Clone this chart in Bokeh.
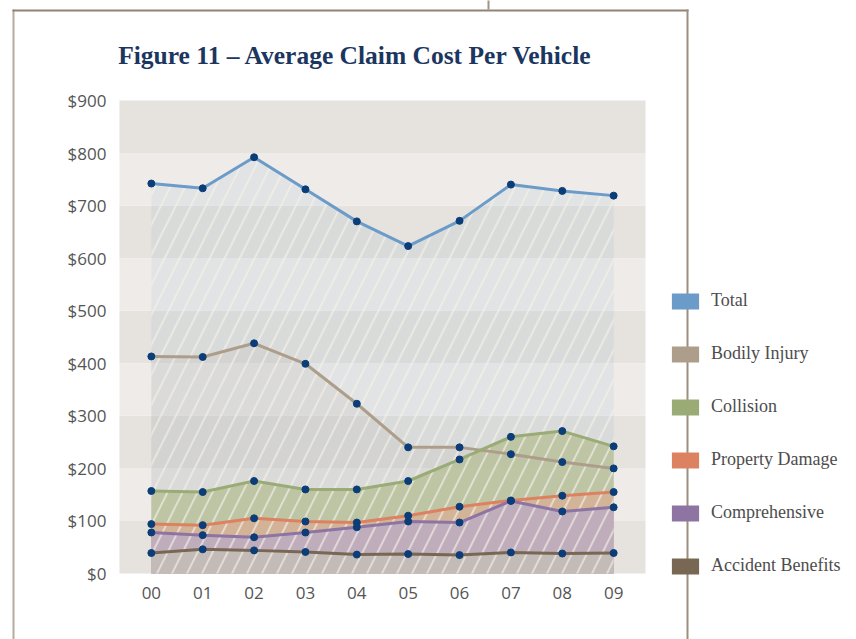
from bokeh.plotting import figure
from bokeh.models import (Range1d, FixedTicker, NumeralTickFormatter, Legend, LegendItem,
                          Label, BoxAnnotation)
from bokeh.embed import file_html
from bokeh.resources import INLINE

# ---------------- data ----------------
years = ["00", "01", "02", "03", "04", "05", "06", "07", "08", "09"]
total = [742, 733, 792, 731, 670, 623, 671, 740, 728, 719]
bodily_injury = [413, 412, 438, 399, 323, 240, 240, 227, 212, 200]
collision = [157, 155, 176, 160, 160, 176, 217, 260, 271, 242]
property_damage = [94, 92, 105, 99, 97, 110, 127, 139, 148, 155]
comprehensive = [78, 73, 69, 78, 88, 99, 97, 138, 118, 126]
accident_benefits = [39, 46, 44, 41, 36, 37, 35, 40, 38, 39]
y_ticks = [0, 100, 200, 300, 400, 500, 600, 700, 800, 900]
series_names = ["Total", "Bodily Injury", "Collision", "Property Damage",
                "Comprehensive", "Accident Benefits"]
title_text = "Figure 11 \u2013 Average Claim Cost Per Vehicle"

# ---------------- layout (page pixels) ----------------
W, H = 856, 639
CH_L, CH_R, CH_T, CH_B = 119, 645, 100, 573   # chart area on the page
XPAD = 0.62

series = [total, bodily_injury, collision, property_damage, comprehensive, accident_benefits]
line_colors = ["#6a9bc9", "#ad9e8b", "#9aab76", "#dc8260", "#8d74a2", "#786753"]
fill_colors = ["#6a9bc9", "#ad9e8b", "#b7c19b", "#d6b096", "#bcabc2", "#c2bdb6"]
fill_alphas = [0.10, 0.12, 0.85, 0.85, 0.85, 0.85]
xi = list(range(len(years)))

x_lo, x_hi = xi[0] - XPAD, xi[-1] + XPAD
y_lo, y_hi = y_ticks[0], y_ticks[-1]
ppx = (CH_R - CH_L) / (x_hi - x_lo)
ppy = (CH_B - CH_T) / (y_hi - y_lo)
x_range = Range1d(x_lo - CH_L / ppx, x_lo + (W - CH_L) / ppx)
y_range = Range1d(y_lo - (H - CH_B) / ppy, y_hi + CH_T / ppy)

p = figure(width=W, height=H, output_backend="svg", toolbar_location=None, title=None,
           x_range=x_range, y_range=y_range, min_border=0,
           background_fill_color="white", border_fill_color="white",
           outline_line_color=None)
p.grid.visible = False

# axes drawn at the chart's edges inside the frame
p.yaxis.fixed_location = x_lo
p.xaxis.fixed_location = y_lo
p.yaxis.ticker = FixedTicker(ticks=y_ticks)
p.yaxis.formatter = NumeralTickFormatter(format="$0")
p.xaxis.ticker = FixedTicker(ticks=xi)
p.xaxis.major_label_overrides = {i: y for i, y in enumerate(years)}
for ax in (p.xaxis, p.yaxis):
    ax.axis_line_color = None
    ax.major_tick_line_color = None
    ax.minor_tick_line_color = None
    ax.major_tick_out = 0
    ax.major_tick_in = 0
    ax.minor_tick_out = 0
    ax.major_label_text_font = "Open Sans"
    ax.major_label_text_font_size = "17px"
    ax.major_label_text_color = "#555555"
p.yaxis.major_label_standoff = 13
p.xaxis.major_label_standoff = 13

# alternating bands between the ticks
band_colors = ["#e6e2de" if i % 2 == 0 else "#efebe8" for i in range(len(y_ticks) - 1)]
p.quad(left=x_lo, right=x_hi, bottom=y_ticks[:-1], top=y_ticks[1:],
       fill_color=band_colors, line_color=None)

# areas
for vals, c, a in zip(series, fill_colors, fill_alphas):
    p.varea(x=xi, y1=[0] * len(xi), y2=vals, fill_color=c, fill_alpha=a)

# hatch overlay
p.varea(x=xi, y1=[0] * len(xi), y2=total, fill_alpha=0,
        hatch_pattern="/", hatch_color="#f6f1ea", hatch_alpha=0.6,
        hatch_scale=30, hatch_weight=2)

# lines and dots
for vals, c in zip(series, line_colors):
    p.line(x=xi, y=vals, line_color=c, line_width=3)
for vals in series:
    p.scatter(x=xi, y=vals, size=7, fill_color="#0b3d78", line_color="#0b3d78")

# frame lines (screen units: x from left, y up from bottom)
def box(l, r, t, b, color):
    p.add_layout(BoxAnnotation(left=l, right=r, top=H - t, bottom=H - b,
                               left_units="screen", right_units="screen",
                               top_units="screen", bottom_units="screen",
                               fill_color=color, fill_alpha=1, line_color=None))

box(12, 14, 9, H + 2, "#b5ab9f")
box(12, 688, 9, 11, "#8f8375")
box(686, 688, 9, H + 2, "#9c8f80")
box(487, 489, -2, 9, "#a09484")

# legend with solid swatches (renderers hold no drawable data)
nan = float("nan")
items = []
for name, c in zip(series_names, line_colors):
    r = p.quad(left=[nan], right=[nan], bottom=[nan], top=[nan],
               fill_color=c, fill_alpha=1, line_color=None)
    items.append(LegendItem(label=name, renderers=[r]))
legend = Legend(items=items, location=(668, H - 576), padding=0, margin=0, spacing=32,
                glyph_width=34, glyph_height=20, label_height=21, label_standoff=9,
                label_text_font="Liberation Serif", label_text_font_size="18px",
                label_text_color="#4d4d4d", border_line_color=None,
                background_fill_alpha=0)
p.add_layout(legend, "center")

# title
p.add_layout(Label(x=355, y=H - 55, x_units="screen", y_units="screen", text=title_text,
                   text_align="center", text_baseline="alphabetic",
                   text_font="Liberation Serif", text_font_style="bold",
                   text_font_size="25.5px", text_color="#1b365f"))

open("out.html", "w").write(file_html(p, INLINE))
